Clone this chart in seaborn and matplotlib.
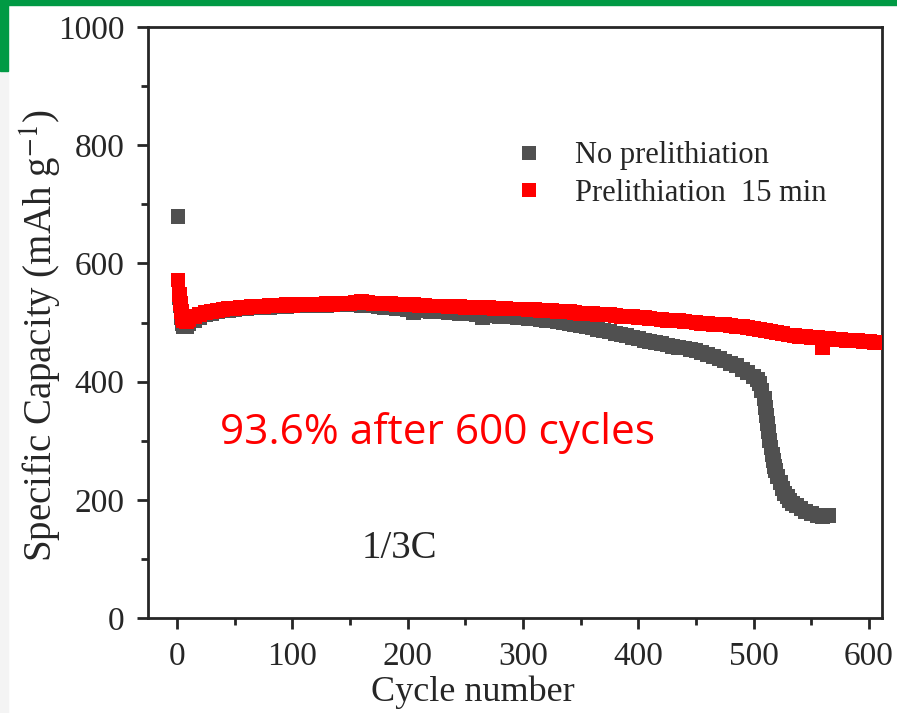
import numpy as np
import pandas as pd
import seaborn as sns
import matplotlib.pyplot as plt
from matplotlib.patches import Rectangle
from matplotlib.ticker import MultipleLocator

# --- data ---
cycles_ref = [1, 2, 3, 4, 5, 6, 8, 10, 15, 20, 25, 30, 35, 40, 45, 50, 55, 60, 65, 70, 75, 80,
              85, 90, 95, 100, 105, 110, 115, 120, 125, 130, 135, 140, 145, 150, 155, 160, 165,
              170, 175, 180, 185, 190, 195, 200, 205, 210, 215, 220, 225, 230, 235, 240, 245,
              250, 255, 260, 265, 270, 275, 280, 285, 290, 295, 300, 305, 310, 315, 320, 325,
              330, 335, 340, 345, 350, 355, 360, 365, 370, 375, 380, 385, 390, 395, 400, 405,
              410, 415, 420, 425, 430, 435, 440, 445, 450, 455, 460, 465, 470, 475, 480, 485,
              490, 495, 500, 503, 505, 507, 509, 510, 511, 512, 513, 514, 515, 516, 517, 518,
              519, 521, 523, 525, 527, 529, 531, 534, 537, 541, 545, 550, 555, 560, 565]
cap_ref = [680, 542, 528, 508, 498, 494, 494, 498, 504, 509, 513, 516, 518, 520, 521, 522, 523,
           524, 525, 525, 526, 526, 527, 527, 527, 528, 528, 528, 529, 529, 529, 529, 530, 530,
           530, 530, 530, 529, 528, 528, 527, 526, 525, 524, 523, 522, 517, 521, 520, 519, 518,
           518, 517, 517, 516, 515, 515, 514, 508, 513, 512, 511, 511, 510, 509, 508, 507, 506,
           505, 504, 503, 502, 500, 499, 497, 495, 493, 491, 489, 487, 485, 482, 480, 478, 475,
           473, 470, 468, 466, 464, 462, 460, 458, 457, 455, 452, 449, 446, 443, 439, 435, 431,
           427, 421, 415, 409, 403, 397, 385, 371, 357, 343, 329, 315, 301, 289, 277, 267, 257,
           249, 239, 229, 219, 211, 205, 199, 194, 190, 186, 181, 177, 174, 172, 174]

cycles_pre = [1, 2, 3, 4, 5, 6, 8, 10, 15, 20, 25, 30, 35, 40, 45, 50, 55, 60, 65, 70, 75, 80,
              85, 90, 95, 100, 105, 110, 115, 120, 125, 130, 135, 140, 145, 150, 155, 160, 165,
              170, 175, 180, 185, 190, 195, 200, 205, 210, 215, 220, 225, 230, 235, 240, 245,
              250, 255, 260, 265, 270, 275, 280, 285, 290, 295, 300, 305, 310, 315, 320, 325,
              330, 335, 340, 345, 350, 355, 360, 365, 370, 375, 380, 385, 390, 395, 400, 405,
              410, 415, 420, 425, 430, 435, 440, 445, 450, 455, 460, 465, 470, 475, 480, 485,
              490, 495, 500, 505, 510, 515, 520, 525, 530, 535, 540, 545, 550, 555, 560, 565,
              570, 575, 580, 585, 590, 595, 600, 605]
cap_pre = [572, 548, 532, 518, 508, 503, 502, 505, 510, 514, 517, 519, 521, 522, 524, 524, 526,
           526, 527, 528, 527, 529, 528, 529, 530, 529, 530, 530, 531, 530, 531, 532, 531, 532,
           533, 533, 534, 535, 534, 533, 533, 532, 532, 531, 531, 530, 530, 529, 529, 528, 528,
           528, 527, 527, 527, 526, 526, 526, 525, 525, 524, 524, 524, 523, 523, 523, 522, 522,
           521, 521, 520, 519, 519, 518, 517, 516, 515, 515, 514, 513, 513, 512, 511, 510, 510,
           509, 508, 507, 506, 505, 504, 503, 503, 502, 501, 500, 499, 498, 497, 497, 496, 495,
           494, 493, 492, 490, 489, 487, 485, 483, 481, 479, 478, 477, 476, 475, 474, 457, 473,
           472, 471, 470, 470, 469, 468, 468, 467]

labels = ["No prelithiation", "Prelithiation  15 min"]
colors = ["#505050", "#ff0000"]

df = pd.concat([
    pd.DataFrame({"cycle": cycles_ref, "capacity": cap_ref, "sample": labels[0]}),
    pd.DataFrame({"cycle": cycles_pre, "capacity": cap_pre, "sample": labels[1]}),
])

sns.set_style("ticks")
plt.rcParams["font.family"] = ["Liberation Serif", "DejaVu Serif"]
plt.rcParams["mathtext.fontset"] = "stix"

fig = plt.figure(figsize=(8.97, 7.13), dpi=100)
ax = fig.add_axes([0.165, 0.1332, 0.818, 0.8288])

# slide decoration around the chart
fig.add_artist(Rectangle((0, 0), 0.009, 1, transform=fig.transFigure, color="#f4f4f4", zorder=0))
fig.add_artist(Rectangle((0, 0.9), 0.009, 0.1, transform=fig.transFigure, color="#009a44", zorder=0))
fig.add_artist(Rectangle((0, 0.993), 1, 0.007, transform=fig.transFigure, color="#009a44", zorder=0))

sns.scatterplot(data=df, x="cycle", y="capacity", hue="sample", hue_order=labels,
                palette=colors, marker="s", s=115, linewidth=0, ax=ax, zorder=3)

ax.set_xlim(-25, 611)
ax.set_ylim(0, 1000)
ax.xaxis.set_major_locator(MultipleLocator(100))
ax.xaxis.set_minor_locator(MultipleLocator(50))
ax.yaxis.set_major_locator(MultipleLocator(200))
ax.yaxis.set_minor_locator(MultipleLocator(100))
ax.tick_params(which="major", direction="out", length=8, width=2, labelsize=24)
ax.tick_params(which="minor", direction="out", length=5, width=2)
ax.tick_params(axis="x", which="major", pad=9)
ax.tick_params(axis="y", which="major", pad=9)
for sp in ax.spines.values():
    sp.set_visible(True)
    sp.set_linewidth(2)

ax.set_xlabel("Cycle number", fontsize=26)
ax.set_ylabel("Specific Capacity (mAh g$^{-1}$)", fontsize=28)
ax.xaxis.set_label_coords(0.443, -0.098)
ax.yaxis.set_label_coords(-0.115, 0.477)

ax.text(37, 313, "93.6% after 600 cycles", color="#ff0000", fontsize=30.5,
        family=["Open Sans", "DejaVu Sans"], va="center", ha="left")
ax.text(193, 118, "1/3C", fontsize=28, ha="center", va="center")

sns.move_legend(ax, "upper left", bbox_to_anchor=(0.461, 0.853), title=None,
                frameon=False, fontsize=22, handlelength=1.0, handletextpad=1.0,
                labelspacing=0.27, markerscale=0.95)

fig.savefig("out.png", dpi=100)
